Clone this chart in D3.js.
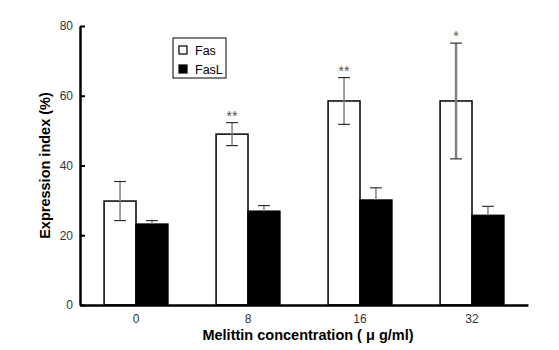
<!DOCTYPE html>
<html>
<head>
<meta charset="utf-8">
<script src="https://d3js.org/d3.v7.min.js"></script>
<style>
  body { margin: 0; background: #fff; }
  text { font-family: "Liberation Sans", Arial, sans-serif; }
</style>
</head>
<body>
<div class="svg_container"></div>
<script>
const WIDTH = 559;
const HEIGHT = 350;
const MARGIN = {top: 26, right: 31, bottom: 45, left: 80};
const INNER_WIDTH = WIDTH - MARGIN.left - MARGIN.right;
const INNER_HEIGHT = HEIGHT - MARGIN.top - MARGIN.bottom;

// data
var concentrations = ["0", "8", "16", "32"];
var seriesNames = ["Fas", "FasL"];
var fasValues = [29.8, 49.0, 58.5, 58.5];
var fasErrors = [5.6, 3.3, 6.7, 16.6];
var faslValues = [23.2, 26.9, 30.1, 25.7];
var faslErrors = [1.0, 1.6, 3.5, 2.6];
var marks = ["", "**", "**", "*"];
var yTicks = [0, 20, 40, 60, 80];

var translate = function (x, y) {
  return "translate(" + x + "," + y + ")";
};

var svg = d3.select('.svg_container').append('svg')
  .attr('width', WIDTH)
  .attr('height', HEIGHT);

var g = svg.append('g').attr('transform', translate(MARGIN.left, MARGIN.top));

var _xScale = d3.scaleBand()
  .domain(concentrations)
  .range([0, INNER_WIDTH])
  .paddingInner(0.43)
  .paddingOuter(0.215);

var _subScale = d3.scaleBand()
  .domain(seriesNames)
  .range([0, _xScale.bandwidth()]);

var _yScale = d3.scaleLinear()
  .domain([0, 80])
  .range([INNER_HEIGHT, 0]);

var rows = concentrations.map(function (c, i) {
  return [
    {conc: c, name: "Fas", value: fasValues[i], err: fasErrors[i], mark: marks[i]},
    {conc: c, name: "FasL", value: faslValues[i], err: faslErrors[i], mark: ""}
  ];
});
var flat = d3.merge(rows);

var barX = function (d) { return _xScale(d.conc) + _subScale(d.name); };
var barMid = function (d) { return barX(d) + _subScale.bandwidth() / 2; };

// bars
g.selectAll('rect.bar')
  .data(flat).enter().append('rect')
  .attr('class', 'bar')
  .attr('x', barX)
  .attr('y', function (d) { return _yScale(d.value); })
  .attr('width', _subScale.bandwidth())
  .attr('height', function (d) { return _yScale(0) - _yScale(d.value); })
  .attr('fill', function (d) { return d.name === "Fas" ? "#fff" : "#000"; })
  .attr('stroke', "#000")
  .attr('stroke-width', 1.5);

// error bars (Fas both ways, FasL upper only)
var errs = g.selectAll('g.err').data(flat).enter().append('g').attr('class', 'err');
errs.append('line')
  .attr('x1', barMid).attr('x2', barMid)
  .attr('y1', function (d) { return _yScale(d.value + d.err); })
  .attr('y2', function (d) { return d.name === "Fas" ? _yScale(d.value - d.err) : _yScale(d.value); })
  .attr('stroke', "#808080")
  .attr('stroke-width', function (d) { return d.err > 10 ? 2.5 : 1.5; });
errs.append('line')
  .attr('x1', function (d) { return barMid(d) - 6; })
  .attr('x2', function (d) { return barMid(d) + 6; })
  .attr('y1', function (d) { return _yScale(d.value + d.err); })
  .attr('y2', function (d) { return _yScale(d.value + d.err); })
  .attr('stroke', "#333")
  .attr('stroke-width', 1.2);
errs.filter(function (d) { return d.name === "Fas"; }).append('line')
  .attr('x1', function (d) { return barMid(d) - 6; })
  .attr('x2', function (d) { return barMid(d) + 6; })
  .attr('y1', function (d) { return _yScale(d.value - d.err); })
  .attr('y2', function (d) { return _yScale(d.value - d.err); })
  .attr('stroke', "#333")
  .attr('stroke-width', 1.2);

// significance stars
g.selectAll('text.mark')
  .data(flat.filter(function (d) { return d.mark; })).enter().append('text')
  .attr('class', 'mark')
  .attr('x', barMid)
  .attr('y', function (d) { return _yScale(d.value + d.err) - 2; })
  .attr('text-anchor', 'middle')
  .attr('font-size', 14)
  .attr('fill', "#555")
  .text(function (d) { return d.mark; });

// axes
var yAxis = d3.axisRight(_yScale).tickValues(yTicks).tickSize(5).tickSizeOuter(0);
var yG = g.append('g').call(yAxis);
yG.select('.domain').attr('stroke-width', 2.5);
yG.selectAll('.tick line').attr('stroke-width', 2);
yG.selectAll('.tick text')
  .attr('x', -7)
  .attr('text-anchor', 'end')
  .attr('font-size', 12)
  .attr('fill', "#333")
  .style('font-family', '"Liberation Sans", Arial, sans-serif');

var xAxis = d3.axisBottom(_xScale).tickSize(0).tickPadding(9);
var xG = g.append('g').attr('transform', translate(0, INNER_HEIGHT)).call(xAxis);
xG.select('.domain').attr('stroke-width', 2.5);
xG.selectAll('.tick text')
  .attr('font-size', 12)
  .attr('fill', "#333")
  .style('font-family', '"Liberation Sans", Arial, sans-serif');

// axis titles
svg.append('text')
  .attr('transform', translate(50, MARGIN.top + INNER_HEIGHT / 2) + " rotate(-90)")
  .attr('text-anchor', 'middle')
  .attr('font-size', 14.5)
  .attr('font-weight', 'bold')
  .text("Expression index (%)");

svg.append('text')
  .attr('x', 308)
  .attr('y', 340)
  .attr('text-anchor', 'middle')
  .attr('font-size', 14.5)
  .attr('font-weight', 'bold')
  .text("Melittin concentration ( \u03bc g/ml)");

// legend
var legend = svg.append('g').attr('transform', translate(173, 38));
legend.append('rect')
  .attr('width', 53).attr('height', 40)
  .attr('fill', "#fff").attr('stroke', "#000").attr('stroke-width', 1);
var items = legend.selectAll('g.item').data(seriesNames).enter().append('g')
  .attr('class', 'item')
  .attr('transform', function (d, i) { return translate(6, 8 + i * 19); });
items.append('rect')
  .attr('width', 8).attr('height', 8)
  .attr('fill', function (d) { return d === "Fas" ? "#fff" : "#000"; })
  .attr('stroke', "#000").attr('stroke-width', 1.2);
items.append('text')
  .attr('x', 16).attr('y', 8.5)
  .attr('font-size', 12.5)
  .text(function (d) { return d; });
</script>
</body>
</html>
